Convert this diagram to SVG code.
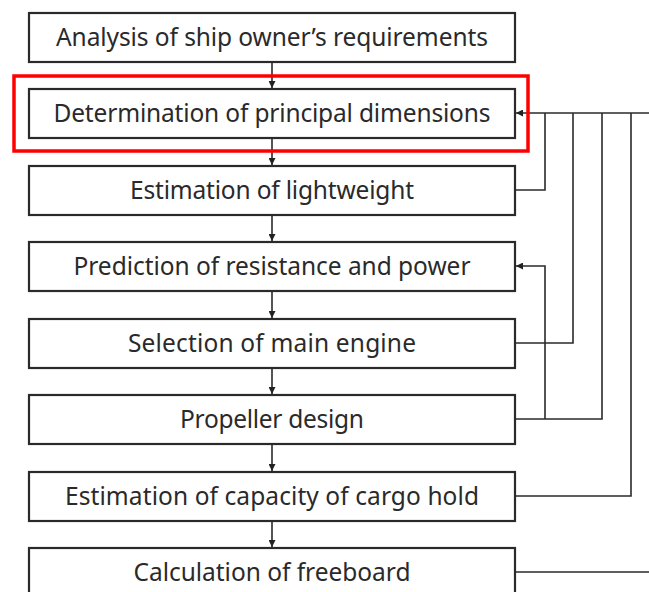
<svg xmlns="http://www.w3.org/2000/svg" width="649" height="592" viewBox="0 0 649 592">
<defs>
<marker id="ah" viewBox="0 0 10 10" refX="10" refY="5" markerWidth="7" markerHeight="7" orient="auto" markerUnits="userSpaceOnUse">
<path d="M0,0 L10,5 L0,10 Z" fill="#222"/>
</marker>
<style>
.box{fill:#fff;stroke:#2a2a2a;stroke-width:2.2}
.lbl{font-family:"Noto Sans","Open Sans",sans-serif;font-size:24.5px;fill:#2a2a2a;text-anchor:middle}
.c{fill:none;stroke:#2a2a2a;stroke-width:1.6}
.hl{fill:none;stroke:#f00;stroke-width:3.5}
</style>
</defs>
<rect width="649" height="592" fill="#fff"/>
<g id="connectors">
<path class="c" d="M272,62 V88" marker-end="url(#ah)"/>
<path class="c" d="M272,138 V165" marker-end="url(#ah)"/>
<path class="c" d="M272,215 V241" marker-end="url(#ah)"/>
<path class="c" d="M272,291 V318" marker-end="url(#ah)"/>
<path class="c" d="M272,368 V394" marker-end="url(#ah)"/>
<path class="c" d="M272,444 V471" marker-end="url(#ah)"/>
<path class="c" d="M272,521 V547" marker-end="url(#ah)"/>
<path class="c" d="M649,113 H516" marker-end="url(#ah)"/>
<path class="c" d="M515,190 H545 V113"/>
<path class="c" d="M515,343 H573 V113"/>
<path class="c" d="M515,419 H602 V113"/>
<path class="c" d="M515,496 H631 V113"/>
<path class="c" d="M545,419 V266 H516" marker-end="url(#ah)"/>
<path class="c" d="M515,572 H649"/>
</g>
<g id="n1"><rect class="box" x="29" y="13" width="486" height="49"/><text class="lbl" x="272" y="46" textLength="432" lengthAdjust="spacing">Analysis of ship owner’s requirements</text></g>
<g id="n2"><rect class="box" x="29" y="89" width="486" height="49"/><text class="lbl" x="272" y="122" textLength="437" lengthAdjust="spacing">Determination of principal dimensions</text></g>
<g id="n3"><rect class="box" x="29" y="166" width="486" height="49"/><text class="lbl" x="272" y="199" textLength="284" lengthAdjust="spacing">Estimation of lightweight</text></g>
<g id="n4"><rect class="box" x="29" y="242" width="486" height="49"/><text class="lbl" x="272" y="275" textLength="397" lengthAdjust="spacing">Prediction of resistance and power</text></g>
<g id="n5"><rect class="box" x="29" y="319" width="486" height="49"/><text class="lbl" x="272" y="352" textLength="288" lengthAdjust="spacing">Selection of main engine</text></g>
<g id="n6"><rect class="box" x="29" y="395" width="486" height="49"/><text class="lbl" x="272" y="428" textLength="184" lengthAdjust="spacing">Propeller design</text></g>
<g id="n7"><rect class="box" x="29" y="472" width="486" height="49"/><text class="lbl" x="272" y="505" textLength="414" lengthAdjust="spacing">Estimation of capacity of cargo hold</text></g>
<g id="n8"><rect class="box" x="29" y="548" width="486" height="49"/><text class="lbl" x="272" y="581" textLength="277" lengthAdjust="spacing">Calculation of freeboard</text></g>
<g id="highlight"><rect class="hl" x="14" y="76" width="514" height="75"/></g>
</svg>
